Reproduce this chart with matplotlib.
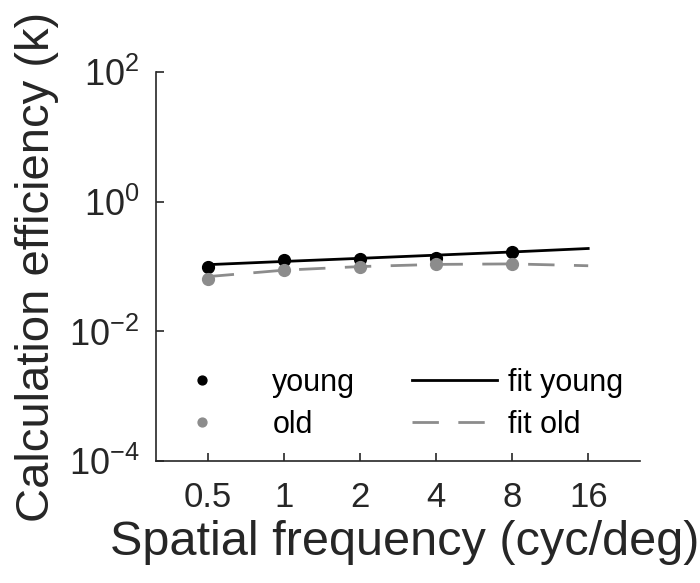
import matplotlib
import numpy as np
import matplotlib.pyplot as plt
from matplotlib.ticker import FixedLocator, FixedFormatter, NullLocator

matplotlib.use("Agg")

plt.rcParams['font.family'] = ['Liberation Sans', 'DejaVu Sans']
plt.rcParams['mathtext.fontset'] = 'custom'
plt.rcParams['mathtext.rm'] = 'Liberation Sans'

# data
freq = [0.5, 1, 2, 4, 8]
young = [0.100, 0.128, 0.133, 0.138, 0.170]
old = [0.065, 0.090, 0.100, 0.110, 0.110]

fit_freq = [0.5, 1, 2, 4, 8, 16]
fit_young = [0.107, 0.120, 0.134, 0.150, 0.168, 0.190]
fit_old = [0.070, 0.088, 0.100, 0.108, 0.110, 0.103]

xticks = [0.5, 1, 2, 4, 8, 16]
xtick_labels = ['0.5', '1', '2', '4', '8', '16']
yticks = [1e-4, 1e-2, 1e0, 1e2]
ytick_labels = [r'$10^{-4}$', r'$10^{-2}$', r'$10^{0}$', r'$10^{2}$']

gray = '#8c8c8c'
dark = '#262626'

fig = plt.figure(figsize=(7, 5.83), dpi=100)
ax = fig.add_axes([0.223, 0.209, 0.691, 0.6675])

h_young, = ax.plot(freq, young, 'o', color='black', markersize=8.5, label='young')
h_old, = ax.plot(freq, old, 'o', color=gray, markersize=8.5, label='old')
h_fy, = ax.plot(fit_freq, fit_young, '-', color='black', linewidth=2, label='fit young')
h_fo, = ax.plot(fit_freq, fit_old, '--', color=gray, linewidth=2, dashes=(9.5, 7), label='fit old')

ax.set_xscale('log', base=2)
ax.set_yscale('log')
ax.set_xlim(0.3125, 25.6)
ax.set_ylim(1e-4, 1e2)

ax.xaxis.set_major_locator(FixedLocator(xticks))
ax.xaxis.set_major_formatter(FixedFormatter(xtick_labels))
ax.xaxis.set_minor_locator(NullLocator())
ax.yaxis.set_major_locator(FixedLocator(yticks))
ax.yaxis.set_major_formatter(FixedFormatter(ytick_labels))
ax.yaxis.set_minor_locator(NullLocator())

ax.spines['top'].set_visible(False)
ax.spines['right'].set_visible(False)
for s in ['left', 'bottom']:
    ax.spines[s].set_color(dark)
    ax.spines[s].set_linewidth(1.2)
ax.tick_params(direction='in', length=6, width=1.2, colors=dark, labelcolor=dark)
ax.tick_params(axis='x', labelsize=25, pad=14)
ax.tick_params(axis='y', labelsize=26, pad=12)

ax.set_xlabel('Spatial frequency (cyc/deg)', fontsize=35, color=dark)
ax.set_ylabel('Calculation efficiency (k)', fontsize=34, color=dark)
ax.xaxis.set_label_coords(0.514, -0.15)
ax.yaxis.set_label_coords(-0.2, 0.5)

# two legend blocks: markers on the left, fit lines on the right
leg1 = ax.legend([h_young, h_old], ['young', 'old'], loc='center left',
                 bbox_to_anchor=(-0.025, 0.147), frameon=False, fontsize=22,
                 borderpad=0, borderaxespad=0, handlelength=3.8, handletextpad=0.4,
                 labelspacing=0.4, markerscale=0.75)
ax.add_artist(leg1)
ax.legend([h_fy, h_fo], ['fit young', 'fit old'], loc='center left',
          bbox_to_anchor=(0.529, 0.147), frameon=False, fontsize=22,
          borderpad=0, borderaxespad=0, handlelength=2.78, handletextpad=0.36,
          labelspacing=0.4)

plt.savefig("out.png")
plt.close()
